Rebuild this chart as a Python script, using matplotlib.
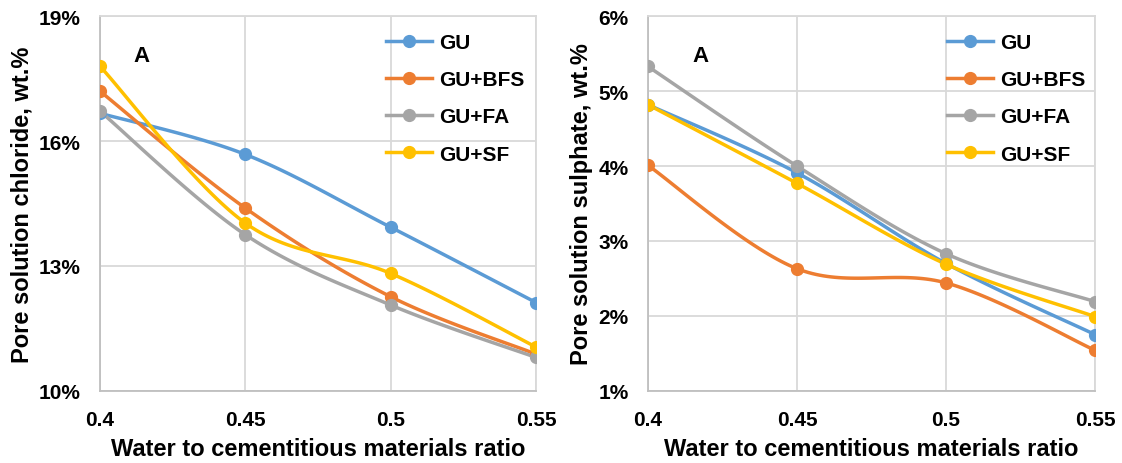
import numpy as np
import matplotlib
matplotlib.use("Agg")
import matplotlib.pyplot as plt
from matplotlib.ticker import FuncFormatter

plt.rcParams['font.family'] = ['Liberation Sans', 'DejaVu Sans']
plt.rcParams['font.weight'] = 'bold'

# Water to cementitious materials ratio
wcm = [0.40, 0.45, 0.50, 0.55]
series_names = ["GU", "GU+BFS", "GU+FA", "GU+SF"]
series_colors = ["#5B9BD5", "#ED7D31", "#A5A5A5", "#FFC000"]

# Pore solution chloride, wt.%
chloride_gu = [16.67, 15.68, 13.93, 12.12]
chloride_bfs = [17.20, 14.39, 12.26, 10.88]
chloride_fa = [16.72, 13.75, 12.06, 10.80]
chloride_sf = [17.80, 14.03, 12.82, 11.05]

# Pore solution sulphate, wt.%
sulphate_gu = [4.82, 3.91, 2.70, 1.75]
sulphate_bfs = [4.01, 2.63, 2.44, 1.54]
sulphate_fa = [5.33, 4.00, 2.83, 2.19]
sulphate_sf = [4.82, 3.77, 2.69, 1.99]

chloride_ticks = [10, 13, 16, 19]
sulphate_ticks = [1, 2, 3, 4, 5, 6]

FIG_W, FIG_H = 11.22, 4.64


def smooth_curve(xs, ys, xlim, ylim, wpx, hpx, n=40):
    """Bezier smoothing through the points (spreadsheet-style smoothed line)."""
    xs = np.asarray(xs, float)
    ys = np.asarray(ys, float)
    px = (xs - xlim[0]) / (xlim[1] - xlim[0]) * wpx
    py = (ys - ylim[0]) / (ylim[1] - ylim[0]) * hpx
    P = np.column_stack([px, py])
    Pe = np.vstack([P[0], P, P[-1]])
    out = []
    t = np.linspace(0, 1, n)[:, None]
    for i in range(len(P) - 1):
        p0, p1, p2, p3 = Pe[i], Pe[i + 1], Pe[i + 2], Pe[i + 3]
        c1 = p1 + (p2 - p0) / 6.0
        c2 = p2 - (p3 - p1) / 6.0
        seg = ((1 - t) ** 3) * p1 + 3 * ((1 - t) ** 2) * t * c1 + 3 * (1 - t) * t ** 2 * c2 + t ** 3 * p2
        out.append(seg if i == 0 else seg[1:])
    out = np.vstack(out)
    sx = out[:, 0] / wpx * (xlim[1] - xlim[0]) + xlim[0]
    sy = out[:, 1] / hpx * (ylim[1] - ylim[0]) + ylim[0]
    return sx, sy


fig = plt.figure(figsize=(FIG_W, FIG_H), dpi=100)

panels = [
    dict(rect=[0.0891, 0.1558, 0.3886, 0.8069],
         data=[chloride_gu, chloride_bfs, chloride_fa, chloride_sf],
         ticks=chloride_ticks, ylabel="Pore solution chloride, wt.%",
         a_x=0.096, leg_x=0.657),
    dict(rect=[0.5775, 0.1558, 0.3984, 0.8069],
         data=[sulphate_gu, sulphate_bfs, sulphate_fa, sulphate_sf],
         ticks=sulphate_ticks, ylabel="Pore solution sulphate, wt.%",
         a_x=0.117, leg_x=0.669),
]

for p in panels:
    ax = fig.add_axes(p['rect'])
    xlim = (wcm[0], wcm[-1])
    ylim = (p['ticks'][0], p['ticks'][-1])
    wpx = p['rect'][2] * FIG_W * 100
    hpx = p['rect'][3] * FIG_H * 100
    handles = []
    for vals, name, col in zip(p['data'], series_names, series_colors):
        sx, sy = smooth_curve(wcm, vals, xlim, ylim, wpx, hpx)
        ax.plot(sx, sy, color=col, lw=2.5, solid_capstyle='round', zorder=3)
        ax.plot(wcm, vals, 'o', color=col, ms=8.5, zorder=4)
        h, = ax.plot([], [], color=col, lw=2.5, marker='o', ms=8.5, label=name)
        handles.append(h)

    ax.set_xlim(*xlim)
    ax.set_ylim(*ylim)
    ax.set_xticks(wcm)
    ax.set_xticklabels(["0.4", "0.45", "0.5", "0.55"])
    ax.set_yticks(p['ticks'])
    ax.yaxis.set_major_formatter(FuncFormatter(lambda v, _: f"{v:.0f}%"))
    ax.tick_params(length=0, labelsize=15)
    ax.tick_params(axis='y', pad=14)
    ax.tick_params(axis='x', pad=14)
    for lbl in ax.get_xticklabels() + ax.get_yticklabels():
        lbl.set_fontweight('bold')
    ax.grid(True, color='#d9d9d9', lw=1.3, zorder=0)
    ax.set_axisbelow(True)
    for s in ['top', 'right']:
        ax.spines[s].set_color('#d9d9d9')
        ax.spines[s].set_linewidth(1.3)
    for s in ['left', 'bottom']:
        ax.spines[s].set_color('#bfbfbf')
        ax.spines[s].set_linewidth(1.3)

    ax.set_xlabel("Water to cementitious materials ratio", fontsize=17,
                  fontweight='bold', labelpad=6)
    ax.set_ylabel(p['ylabel'], fontsize=17, fontweight='bold', labelpad=4)

    ax.text(p['a_x'], 0.895, "A", transform=ax.transAxes, fontsize=16,
            fontweight='bold', ha='center', va='center')

    ax.legend(handles=handles, loc='upper left',
              bbox_to_anchor=(p['leg_x'], 0.955), frameon=False,
              prop=dict(size=15, weight='bold'), handlelength=2.2,
              handletextpad=0.35, labelspacing=0.87, borderpad=0,
              borderaxespad=0)

fig.savefig("out.png", dpi=100)
